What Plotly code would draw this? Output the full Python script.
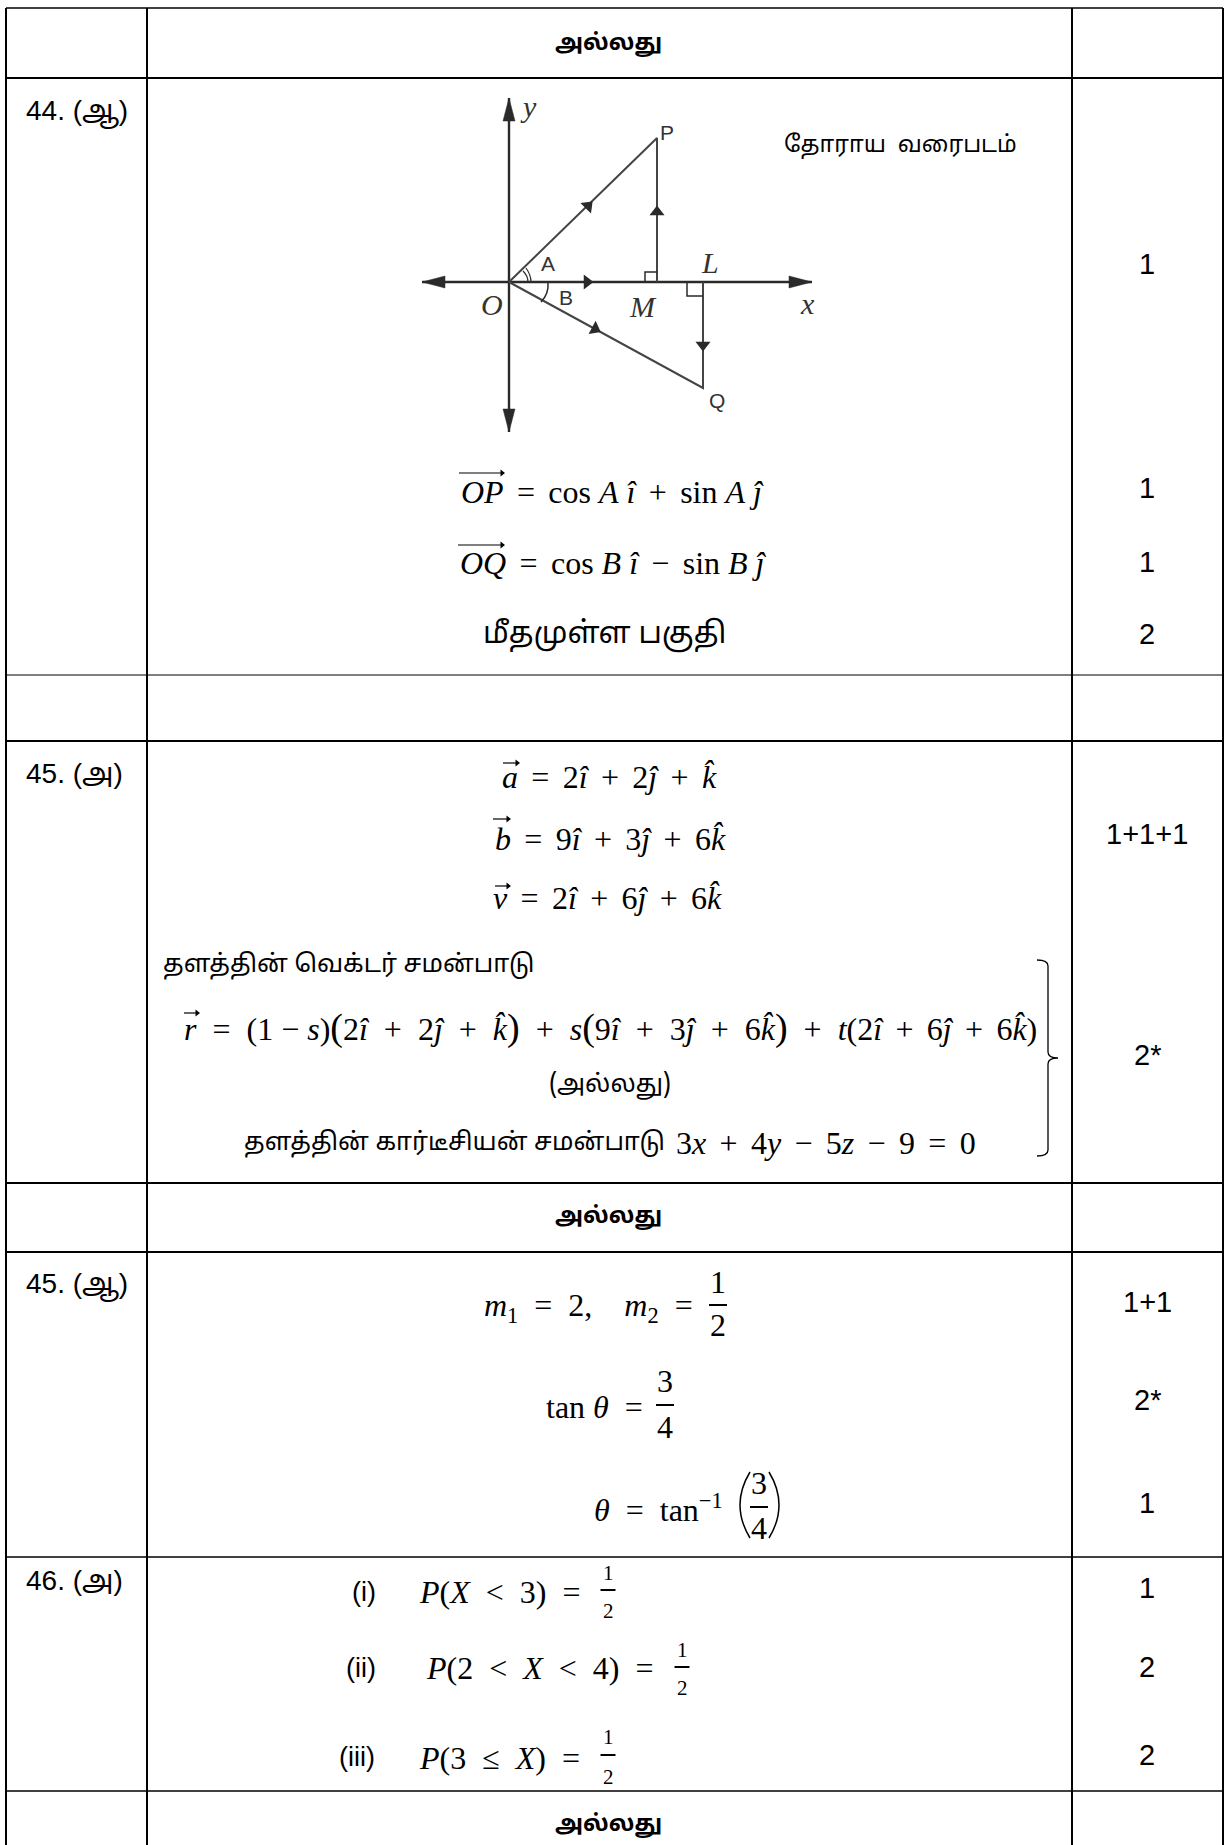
import plotly.graph_objects as go

# table grid
row_y = [8, 78, 675, 741, 1183, 1252, 1557, 1791]
row_w = [1.3, 2.2, 1.2, 2.2, 2, 2, 1.3, 1.3]
col_x = [6, 147, 1072, 1223]

TAMIL = "Noto Sans Tamil, Noto Sans, sans-serif"
SANS = "Liberation Sans, Arial, sans-serif"
MATH = "Liberation Serif, serif"

# question labels
q_labels = ["44. (ஆ)", "45. (அ)", "45. (ஆ)", "46. (அ)"]
q_y = [112, 773, 1285, 1580]

# marks column
marks = ["1", "1", "1", "2", "1+1+1", "2*", "1+1", "2*", "1", "1", "2", "2"]
marks_y = [264, 488, 562, 634, 834, 1055, 1302, 1400, 1503, 1588, 1667, 1755]

# the "or" rows
or_y = [44, 1217, 1825]

# tamil text in the answer column
tamil_text = ["தோராய  வரைபடம்", "மீதமுள்ள பகுதி", "(அல்லது)"]
tamil_x = [900, 604, 610]
tamil_y = [146, 635, 1085]
tamil_size = [23, 30, 25]
left_text = ["தளத்தின் வெக்டர் சமன்பாடு", "தளத்தின் கார்டீசியன் சமன்பாடு"]
left_x = [161, 242]
left_y = [965, 1143]

# spacing round the operators, and the taller brackets of the long equation
g = " \u2006"
lp = '<span style="font-size:38px">(</span>'
rp = '<span style="font-size:38px">)</span>'

# equations, all left aligned
eq_text = [
    f"<i>OP</i>{g}={g}cos <i>A</i> <i>î</i>{g}+{g}sin <i>A</i> <i>ĵ</i>",
    f"<i>OQ</i>{g}={g}cos <i>B</i> <i>î</i>{g}−{g}sin <i>B</i> <i>ĵ</i>",
    f"<i>a</i>{g}={g}2<i>î</i>{g}+{g}2<i>ĵ</i>{g}+{g}<i>k̂</i>",
    f"<i>b</i>{g}={g}9<i>î</i>{g}+{g}3<i>ĵ</i>{g}+{g}6<i>k̂</i>",
    f"<i>v</i>{g}={g}2<i>î</i>{g}+{g}6<i>ĵ</i>{g}+{g}6<i>k̂</i>",
    f"<i>r</i>  =  (1 − <i>s</i>){lp}2<i>î</i>  +  2<i>ĵ</i>  +  <i>k̂</i>{rp}  +  <i>s</i>{lp}9<i>î</i>  +  3<i>ĵ</i>  +  6<i>k̂</i>{rp}  +  <i>t</i>(2<i>î</i>{g}+{g}6<i>ĵ</i>{g}+{g}6<i>k̂</i>)",
    f"3<i>x</i>{g}+{g}4<i>y</i>{g}−{g}5<i>z</i>{g}−{g}9{g}={g}0",
    "<i>m</i><sub>1</sub>  =  2,    <i>m</i><sub>2</sub>  =",
    "tan <i>θ</i>  =",
    "<i>θ</i>  =  tan<sup>−1</sup>",
    "<i>P</i>(<i>X</i>  <  3)  =",
    "<i>P</i>(2  <  <i>X</i>  <  4)  =",
    "<i>P</i>(3  ≤  <i>X</i>)  =",
]
eq_x = [459, 458, 500, 493, 491, 182, 674, 482, 544, 592, 417, 424, 417]
eq_y = [492, 563, 777, 839, 898, 1027, 1143, 1307, 1407, 1508, 1592, 1668, 1758]

# arrows over the vectors
vec_x0 = [459, 458, 503, 493, 495, 184]
vec_x1 = [502, 502, 517, 508, 508, 197]
vec_y = [473, 545, 763, 819, 886, 1013]

# fractions
frac_num = ["1", "3", "3", "1", "1", "1"]
frac_den = ["2", "4", "4", "2", "2", "2"]
frac_x = [718, 665, 759, 608, 682, 608]
frac_top = [1282, 1381, 1483, 1573, 1650, 1737]
frac_mid = [1305, 1405, 1507, 1590, 1667, 1755]
frac_bot = [1325, 1427, 1528, 1611, 1688, 1777]
frac_size = [32, 32, 32, 21, 21, 21]
frac_half = [9, 9, 9, 7.5, 7.5, 7.5]

roman = ["(i)", "(ii)", "(iii)"]
roman_x = [364, 361, 357]
roman_y = [1592, 1668, 1757]

# diagram points
O = (509, 282)
P = (657, 138)
M = (657, 282)
L = (703, 282)
Q = (703, 388)
y_axis = [98, 432]
x_axis = [422, 812]
head_x = [587, 588, 657, 595, 703]
head_y = [282, 206, 212, 329, 345]
head_ang = [90, 45, 0, 118, 180]
point_labels = ["P", "Q", "A", "B"]
point_x = [667, 717, 548, 566]
point_y = [132, 400, 263, 297]
italic_labels = ["y", "x", "O", "L", "M"]
italic_x = [528, 807, 492, 710, 643]
italic_y = [106, 303, 304, 262, 306]

fig = go.Figure()

ink = "#2a2a2a"
for y, w in zip(row_y, row_w):
    fig.add_shape(type="line", x0=col_x[0], x1=col_x[3], y0=y, y1=y, line=dict(color="black", width=w))
for x in col_x:
    fig.add_shape(type="line", x0=x, x1=x, y0=row_y[0], y1=1845, line=dict(color="black", width=2))


def put(text, x, y, size, font, anchor="center", color="black"):
    fig.add_annotation(x=x, y=y, text=text, showarrow=False, xanchor=anchor, yanchor="middle",
                       font=dict(family=font, size=size, color=color))


for t, y in zip(q_labels, q_y):
    put(t, 24, y, 28, SANS + ", " + TAMIL, "left")
for t, y in zip(marks, marks_y):
    put(t, 1147, y, 29, SANS)
for y in or_y:
    put("<b>அல்லது</b>", 608, y, 23, TAMIL)
for t, x, y, s in zip(tamil_text, tamil_x, tamil_y, tamil_size):
    put(t, x, y, s, TAMIL)
for t, x, y in zip(left_text, left_x, left_y):
    put(t, x, y, 25, TAMIL, "left")
for t, x, y in zip(eq_text, eq_x, eq_y):
    put(t, x, y, 32, MATH, "left")
for t, x, y in zip(roman, roman_x, roman_y):
    put(t, x, y, 27, SANS)
for n, d, x, t, m, b, s, h in zip(frac_num, frac_den, frac_x, frac_top, frac_mid, frac_bot, frac_size, frac_half):
    put(n, x, t, s, MATH)
    put(d, x, b, s, MATH)
    fig.add_shape(type="line", x0=x - h, x1=x + h, y0=m, y1=m, line=dict(color="black", width=2))

# arrows over the vectors
for x0, x1, y in zip(vec_x0, vec_x1, vec_y):
    fig.add_trace(go.Scatter(x=[x0, x1], y=[y, y], mode="lines",
                             line=dict(color="black", width=1.2), hoverinfo="skip"))
fig.add_trace(go.Scatter(x=vec_x1, y=vec_y, mode="markers", hoverinfo="skip",
                         marker=dict(symbol="triangle-right", size=6, color="black")))

# large brackets around 3/4 and the right brace
fig.add_shape(type="path", path="M 750 1472 Q 730 1505 750 1538", line=dict(color="black", width=1.5))
fig.add_shape(type="path", path="M 769 1472 Q 789 1505 769 1538", line=dict(color="black", width=1.5))
fig.add_shape(type="path", path="M 1037 960 Q 1048 960 1048 966 L 1048 1052 Q 1048 1058 1058 1058 "
                                "Q 1048 1058 1048 1064 L 1048 1150 Q 1048 1156 1037 1156",
              line=dict(color="black", width=1.3))

# diagram
fig.add_trace(go.Scatter(x=[O[0], O[0], None, x_axis[0], x_axis[1]],
                         y=[y_axis[0], y_axis[1], None, O[1], O[1]], mode="lines",
                         line=dict(color=ink, width=2.4), hoverinfo="skip"))
fig.add_trace(go.Scatter(x=[O[0], P[0], M[0], None, O[0], Q[0], L[0]],
                         y=[O[1], P[1], M[1], None, O[1], Q[1], L[1]], mode="lines",
                         line=dict(color="#444444", width=2), hoverinfo="skip"))
fig.add_trace(go.Scatter(x=head_x, y=head_y, mode="markers", hoverinfo="skip",
                         marker=dict(symbol="triangle-up", size=13, color=ink, angle=head_ang)))
# long heads on the axes
for tx, ty, dx, dy in [(O[0], y_axis[0], 0, 1), (O[0], y_axis[1], 0, -1),
                       (x_axis[0], O[1], 1, 0), (x_axis[1], O[1], -1, 0)]:
    bx, by = tx + dx * 23, ty + dy * 23
    fig.add_shape(type="path", fillcolor=ink, line=dict(color=ink, width=0.5),
                  path=f"M {tx} {ty} L {bx + dy * 6} {by + dx * 6} L {bx - dy * 6} {by - dx * 6} Z")
fig.add_shape(type="path", path="M 645 282 L 645 272 L 657 272", line=dict(color=ink, width=1.5))
fig.add_shape(type="path", path="M 687 282 L 687 296 L 703 296", line=dict(color=ink, width=1.5))
fig.add_shape(type="path", path="M 531 282 Q 531 275 526 268", line=dict(color=ink, width=1.2))
fig.add_shape(type="path", path="M 528 282 Q 528 276 523 271", line=dict(color=ink, width=1.2))
fig.add_shape(type="path", path="M 548 282 Q 549 294 541 302", line=dict(color=ink, width=1.5))
for t, x, y in zip(point_labels, point_x, point_y):
    put(t, x, y, 21, SANS, color="#333333")
for t, x, y in zip(italic_labels, italic_x, italic_y):
    put("<i>" + t + "</i>", x, y, 30, MATH, color="#333333")

fig.update_layout(
    width=1225, height=1845, showlegend=False,
    margin=dict(l=0, r=0, t=0, b=0),
    paper_bgcolor="white", plot_bgcolor="white",
    xaxis=dict(range=[0, 1225], visible=False, fixedrange=True),
    yaxis=dict(range=[1845, 0], visible=False, fixedrange=True),
)

fig.write_html("out.html", config=dict(displayModeBar=False), post_script="document.body.style.margin='0';")
